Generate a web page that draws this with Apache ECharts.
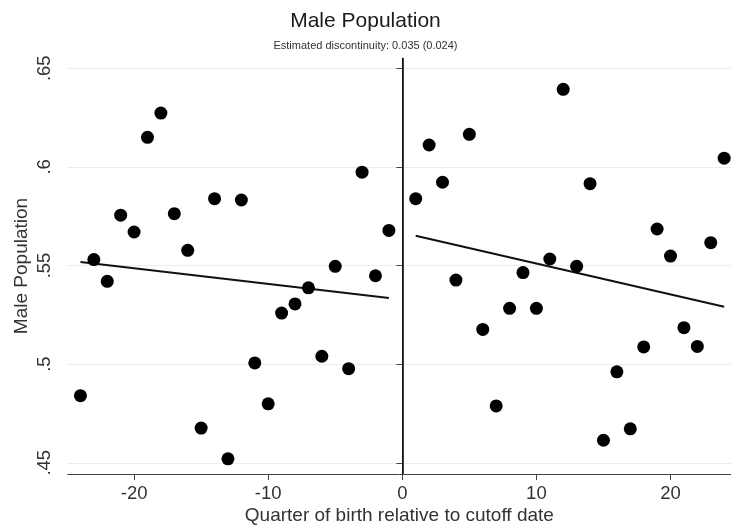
<!DOCTYPE html>
<html>
<head>
<meta charset="utf-8">
<script src="https://cdn.jsdelivr.net/npm/echarts@6/dist/echarts.min.js"></script>
<style>
html,body{margin:0;padding:0;background:#fff;}
#chart{width:731px;height:529px;}
</style>
</head>
<body>
<div id="chart"></div>
<script>
// Quarter of birth relative to cutoff (left of cutoff)
const leftX = [-24,-23,-22,-21,-20,-19,-18,-17,-16,-15,-14,-13,-12,-11,-10,-9,-8,-7,-6,-5,-4,-3,-2,-1];
const leftY = [0.484,0.553,0.542,0.5755,0.567,0.615,0.6273,0.5763,0.5577,0.4676,0.5839,0.452,0.5832,0.5006,0.4799,0.5259,0.5305,0.5387,0.504,0.5496,0.4977,0.5973,0.5448,0.5678];
// Right of cutoff
const rightX = [1,2,3,4,5,6,7,8,9,10,11,12,13,14,15,16,17,18,19,20,21,22,23,24];
const rightY = [0.5839,0.6111,0.5922,0.5426,0.6165,0.5176,0.4788,0.5283,0.5464,0.5283,0.5533,0.6393,0.5496,0.5915,0.4614,0.4961,0.4672,0.5087,0.5685,0.5548,0.5185,0.509,0.5616,0.6044];
// Fitted lines (endpoints)
const leftFitX = [-24,-1];
const leftFitY = [0.5518,0.5335];
const rightFitX = [1,24];
const rightFitY = [0.5651,0.5291];
// Ticks
const xTicks = [-20,-10,0,10,20];
const yTicks = [0.45,0.5,0.55,0.6,0.65];
const yTickLabels = ['.45','.5','.55','.6','.65'];
const cutoff = 0;

const zip = (a,b) => a.map((v,i)=>[v,b[i]]);
const font = 'Liberation Sans, Arial, sans-serif';

const chart = echarts.init(document.getElementById('chart'));
chart.setOption({
  animation: false,
  backgroundColor: '#fff',
  title: [
    {
      text: 'Male Population',
      left: 'center',
      top: 6,
      textStyle: {fontFamily: font, fontSize: 21, fontWeight: 'normal', color: '#1a1a1a'}
    },
    {
      text: 'Estimated discontinuity: 0.035 (0.024)',
      left: 'center',
      top: 35,
      textStyle: {fontFamily: font, fontSize: 11, fontWeight: 'normal', color: '#333'}
    }
  ],
  grid: {left: 67.7, right: 0, top: 58, bottom: 55, containLabel: false, outerBoundsMode: 'none'},
  xAxis: {
    type: 'value',
    min: -24.95, max: 24.51,
    name: 'Quarter of birth relative to cutoff date',
    nameLocation: 'middle',
    nameGap: 32,
    nameMoveOverlap: false,
    nameTextStyle: {fontFamily: font, fontSize: 19, color: '#333'},
    axisLine: {show: true, onZero: false, lineStyle: {color: '#444', width: 1}},
    axisTick: {show: true, length: 6, customValues: xTicks, lineStyle: {color: '#444'}},
    axisLabel: {customValues: xTicks, fontFamily: font, fontSize: 18.5, color: '#333', margin: 10},
    splitLine: {show: false}
  },
  yAxis: {
    type: 'value',
    min: 0.4443, max: 0.6552,
    name: 'Male Population',
    nameLocation: 'middle',
    nameGap: 36.5,
    nameMoveOverlap: false,
    nameRotate: 90,
    nameTextStyle: {fontFamily: font, fontSize: 19, color: '#333'},
    axisLine: {show: true, lineStyle: {color: '#444', width: 1}},
    axisTick: {show: true, length: 6, customValues: yTicks, lineStyle: {color: '#444'}},
    axisLabel: {
      customValues: yTicks, rotate: 90, fontFamily: font, fontSize: 18.5, color: '#333', margin: 13.5,
      formatter: v => { const i = yTicks.findIndex(t => Math.abs(t - v) < 1e-9); return i >= 0 ? yTickLabels[i] : ''; }
    },
    splitLine: {show: true, lineStyle: {color: '#ececec', width: 1}}
  },
  series: [
    {
      type: 'scatter', data: zip(leftX, leftY), symbolSize: 13,
      itemStyle: {color: '#000', opacity: 1}, z: 5,
      markLine: {
        silent: true, symbol: 'none', label: {show: false},
        lineStyle: {color: '#000', width: 1.5, type: 'solid'},
        data: [{xAxis: cutoff}]
      }
    },
    {
      type: 'scatter', data: zip(rightX, rightY), symbolSize: 13,
      itemStyle: {color: '#000', opacity: 1}, z: 5
    },
    {
      type: 'line', data: zip(leftFitX, leftFitY), showSymbol: false, symbol: 'none',
      lineStyle: {color: '#111', width: 2}, z: 4
    },
    {
      type: 'line', data: zip(rightFitX, rightFitY), showSymbol: false, symbol: 'none',
      lineStyle: {color: '#111', width: 2}, z: 4
    }
  ]
});
</script>
</body>
</html>
